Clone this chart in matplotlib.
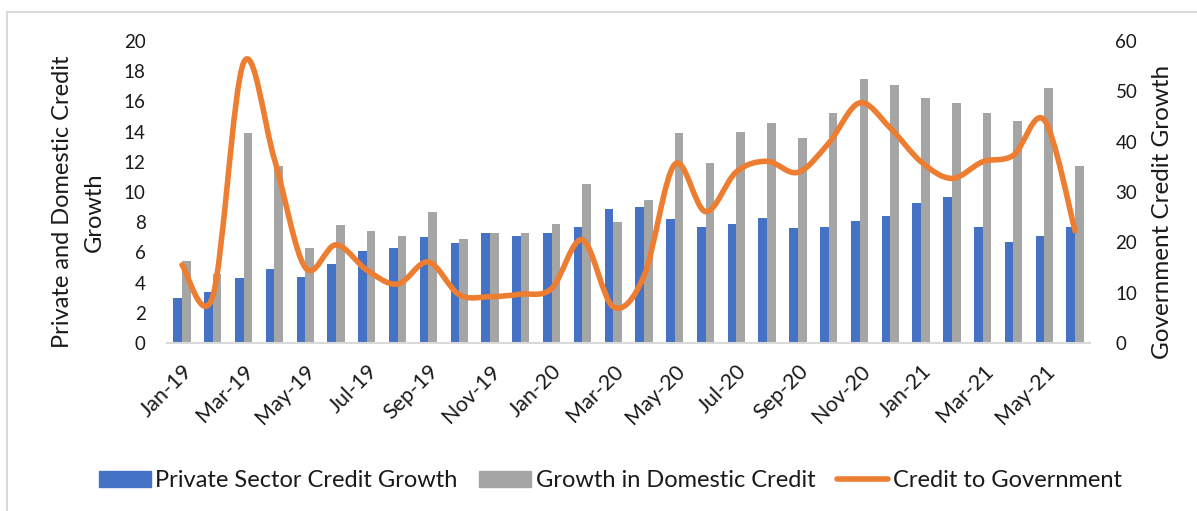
import matplotlib.pyplot as plt
import numpy as np
from matplotlib.path import Path
from matplotlib.patches import PathPatch, Rectangle
from matplotlib.lines import Line2D

plt.rcParams['font.family'] = ['Lato', 'DejaVu Sans']

months = ['Jan-19', 'Feb-19', 'Mar-19', 'Apr-19', 'May-19', 'Jun-19', 'Jul-19', 'Aug-19',
          'Sep-19', 'Oct-19', 'Nov-19', 'Dec-19', 'Jan-20', 'Feb-20', 'Mar-20', 'Apr-20',
          'May-20', 'Jun-20', 'Jul-20', 'Aug-20', 'Sep-20', 'Oct-20', 'Nov-20', 'Dec-20',
          'Jan-21', 'Feb-21', 'Mar-21', 'Apr-21', 'May-21', 'Jun-21']
private = [3.0, 3.4, 4.3, 4.9, 4.4, 5.2, 6.1, 6.3, 7.0, 6.6, 7.3, 7.1, 7.3, 7.7, 8.9,
           9.0, 8.2, 7.7, 7.9, 8.3, 7.6, 7.7, 8.1, 8.4, 9.3, 9.7, 7.7, 6.7, 7.1, 7.7]
domestic = [5.4, 4.6, 13.9, 11.7, 6.3, 7.8, 7.4, 7.1, 8.7, 6.9, 7.3, 7.3, 7.9, 10.5, 8.0,
            9.5, 13.9, 11.9, 14.0, 14.6, 13.6, 15.2, 17.5, 17.1, 16.2, 15.9, 15.2, 14.7, 16.9, 11.7]
government = [15.5, 9.3, 55.7, 36.5, 15.0, 19.5, 14.5, 11.7, 16.1, 9.6, 9.2, 9.7, 10.8, 20.5,
              7.2, 13.3, 35.5, 26.1, 34.0, 36.1, 33.9, 39.7, 47.7, 42.7, 36.0, 32.7, 36.0,
              37.3, 44.3, 22.3]

blue = '#4472C4'
gray = '#A5A5A5'
orange = '#ED7D31'
txt = '#1a1a1a'

fig = plt.figure(figsize=(11.97, 5.11), dpi=100)
ax = fig.add_axes([0.1392, 0.3288, 0.7718, 0.591])
ax2 = ax.twinx()

x = np.arange(len(months))
w = 0.28
ax.bar(x - w / 2, private, w, color=blue)
ax.bar(x + w / 2, domestic, w, color=gray)

# smoothed line like excel: cubic bezier through the points
pts = np.column_stack([x, government])
verts = [pts[0]]
codes = [Path.MOVETO]
n = len(pts)
for i in range(n - 1):
    p0 = pts[max(i - 1, 0)]
    p1 = pts[i]
    p2 = pts[i + 1]
    p3 = pts[min(i + 2, n - 1)]
    verts += [p1 + (p2 - p0) / 6, p2 - (p3 - p1) / 6, p2]
    codes += [Path.CURVE4] * 3
ax2.add_patch(PathPatch(Path(verts, codes), fill=False, edgecolor=orange, lw=4,
                        capstyle='round', joinstyle='round'))

ax.set_xlim(-0.5, len(months) - 0.5)
ax.set_ylim(0, 20)
ax2.set_ylim(0, 60)
ax.set_yticks(range(0, 21, 2))
ax2.set_yticks(range(0, 61, 10))
ax.set_xticks(x[::2])
ax.set_xticklabels(months[::2], rotation=45, ha='right', rotation_mode='anchor')

for a in (ax, ax2):
    for s in a.spines.values():
        s.set_visible(False)
    a.tick_params(length=0, labelsize=13.5, colors=txt)
ax.spines['bottom'].set_visible(True)
ax.spines['bottom'].set_color('#d9d9d9')
ax.spines['bottom'].set_linewidth(1.5)
ax.tick_params(axis='y', pad=15)
ax.tick_params(axis='x', pad=13, labelsize=15.5)
ax2.tick_params(axis='y', pad=18)

fig.text(0.052, 0.605, 'Private and Domestic Credit', rotation=90, ha='center', va='center',
         fontsize=17, color=txt)
fig.text(0.0785, 0.585, 'Growth', rotation=90, ha='center', va='center',
         fontsize=17, color=txt)
fig.text(0.971, 0.585, 'Government Credit Growth', rotation=90, ha='center', va='center',
         fontsize=17.5, color=txt)

handles = [Rectangle((0, 0), 1, 1, color=blue), Rectangle((0, 0), 1, 1, color=gray),
           Line2D([], [], color=orange, lw=4, solid_capstyle='round')]
labels = ['Private Sector Credit Growth', 'Growth in Domestic Credit', 'Credit to Government']
fig.legend(handles, labels, loc='center', bbox_to_anchor=(0.51, 0.059), ncol=3,
           frameon=False, fontsize=17, handlelength=2.2, handleheight=0.64,
           handletextpad=0.2, columnspacing=0.9, labelcolor=txt)

fig.add_artist(Rectangle((7 / 1197, -0.1), 1.2, 1 - 12 / 511 + 0.1, transform=fig.transFigure,
                         fill=False, edgecolor='#d9d9d9', lw=1.5))

fig.savefig('out.png', dpi=100)
